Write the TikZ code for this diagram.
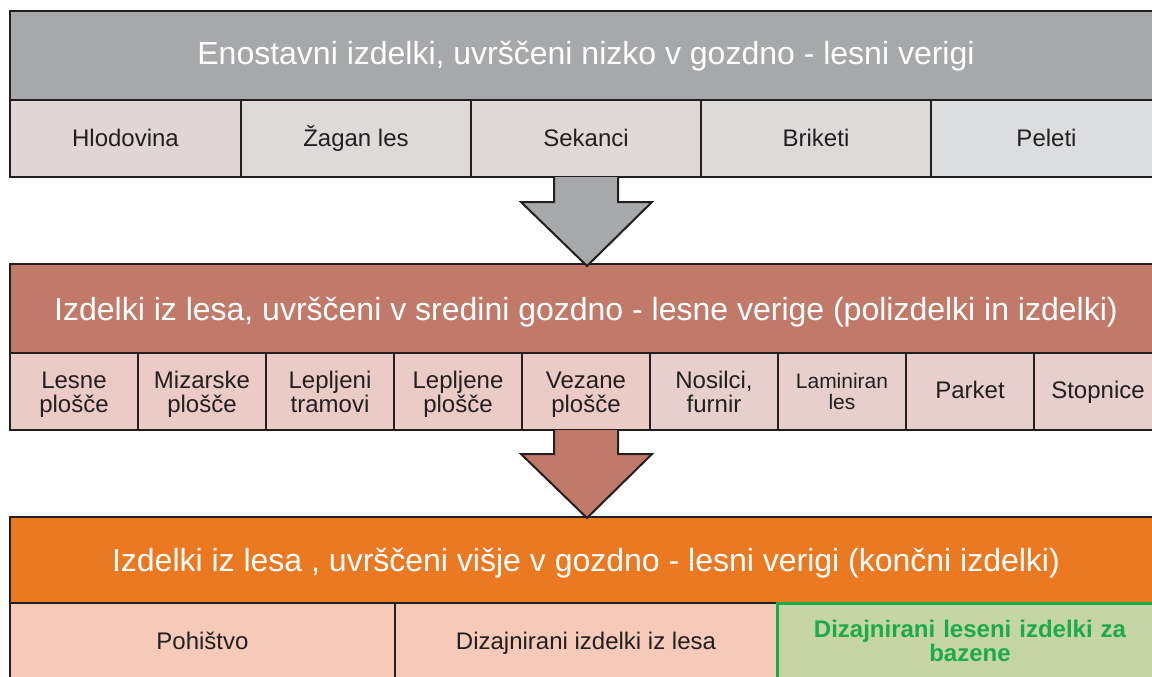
\documentclass[tikz,border=0pt]{standalone}
\usepackage{fontspec}
\setmainfont{Liberation Sans}
\definecolor{edge}{HTML}{231F20}
\definecolor{txt}{HTML}{231F20}
\definecolor{grayhdr}{HTML}{A7A8AA}
\definecolor{rosehdr}{HTML}{C17A6A}
\definecolor{orangehdr}{HTML}{EB7922}
\definecolor{tA}{HTML}{E0D6D5}
\definecolor{tB}{HTML}{DFDADA}
\definecolor{tC}{HTML}{DED8D7}
\definecolor{tD}{HTML}{DDDADA}
\definecolor{tE}{HTML}{DCDDDF}
\definecolor{mA}{HTML}{EBCBC5}
\definecolor{mB}{HTML}{E6CFCD}
\definecolor{bA}{HTML}{F5CAB9}
\definecolor{gfill}{HTML}{C5D5A5}
\definecolor{gedge}{HTML}{1DAA4A}
\tikzset{
  box/.style={draw=edge, line width=2pt, inner sep=0pt, outer sep=0pt, anchor=north west, align=center},
  hdr/.style={box, text=white, font=\fontsize{32}{36}\selectfont, text depth=0pt},
  cell/.style={box, text=txt, font=\fontsize{24}{24}\selectfont},
  twoline/.style={cell, text width=128pt, text height=21pt, text depth=27pt},
  smallcell/.style={cell, font=\fontsize{21}{21}\selectfont, text width=128pt, text height=20pt, text depth=27pt},
  greencell/.style={box, draw=gedge, line width=3pt, fill=gfill, text=gedge, font=\fontsize{24}{24}\selectfont\bfseries, text width=386pt, text height=21pt, text depth=30pt},
  bigarrow/.style={draw=edge, line width=2pt, line join=miter},
}
\begin{document}
\begin{tikzpicture}[x=1pt,y=-1pt]
\useasboundingbox (0,0) rectangle (1152,677);
% top block
\node[hdr, fill=grayhdr, minimum width=1152pt, minimum height=89pt, text height=19pt] (h1) at (10,11) {Enostavni izdelki, uvrščeni nizko v gozdno - lesni verigi};
\begin{scope}[every node/.append style={cell, minimum height=77pt, text height=16.4pt, text depth=0pt}]
\node[fill=tA, minimum width=231pt] (t1) at (10,100) {Hlodovina};
\node[fill=tB, minimum width=230pt] (t2) at (241,100) {Žagan les};
\node[fill=tC, minimum width=230pt] (t3) at (471,100) {Sekanci};
\node[fill=tD, minimum width=230pt] (t4) at (701,100) {Briketi};
\node[fill=tE, minimum width=231pt] (t5) at (931,100) {Peleti};
\end{scope}
% middle block
\node[hdr, fill=rosehdr, minimum width=1152pt, minimum height=89pt, text height=23pt] (h2) at (10,264) {Izdelki iz lesa, uvrščeni v sredini gozdno - lesne verige (polizdelki in izdelki)};
\node[twoline, fill=mA, minimum width=128pt, minimum height=77pt] (m1) at (10,353) {Lesne\\plošče};
\node[twoline, fill=mA, minimum width=128pt, minimum height=77pt] (m2) at (138,353) {Mizarske\\plošče};
\node[twoline, fill=mA, minimum width=128pt, minimum height=77pt] (m3) at (266,353) {Lepljeni\\tramovi};
\node[twoline, fill=mA, minimum width=128pt, minimum height=77pt] (m4) at (394,353) {Lepljene\\plošče};
\node[twoline, fill=mA, minimum width=128pt, minimum height=77pt] (m5) at (522,353) {Vezane\\plošče};
\node[twoline, fill=mB, minimum width=128pt, minimum height=77pt] (m6) at (650,353) {Nosilci,\\furnir};
\node[smallcell, fill=mB, minimum width=128pt, minimum height=77pt] (m7) at (778,353) {Laminiran\\les};
\node[cell, fill=mB, minimum width=128pt, minimum height=77pt, text height=13.6pt, text depth=0pt] (m8) at (906,353) {Parket};
\node[cell, fill=mB, minimum width=128pt, minimum height=77pt, text height=13.6pt, text depth=0pt] (m9) at (1034,353) {Stopnice};
% bottom block
\node[hdr, fill=orangehdr, minimum width=1152pt, minimum height=86pt, text height=23pt] (h3) at (10,517) {Izdelki iz lesa , uvrščeni višje v gozdno - lesni verigi (končni izdelki)};
\node[cell, fill=bA, minimum width=385pt, minimum height=77pt, text height=15pt, text depth=0pt] (b1) at (10,603) {Pohištvo};
\node[cell, fill=bA, minimum width=382pt, minimum height=77pt, text height=15pt, text depth=0pt] (b2) at (395,603) {Dizajnirani izdelki iz lesa};
\node[greencell, minimum width=386pt, minimum height=77pt] (b3) at (777,603) {Dizajnirani leseni izdelki za\\bazene};
% arrows
\draw[bigarrow, fill=grayhdr] (554,177) -- (554,202) -- (521,202) -- (587,266) -- (652,202) -- (618,202) -- (618,177);
\draw[bigarrow, fill=rosehdr] (554,430) -- (554,454) -- (521,454) -- (587,518) -- (652,454) -- (618,454) -- (618,430);
\end{tikzpicture}
\end{document}
